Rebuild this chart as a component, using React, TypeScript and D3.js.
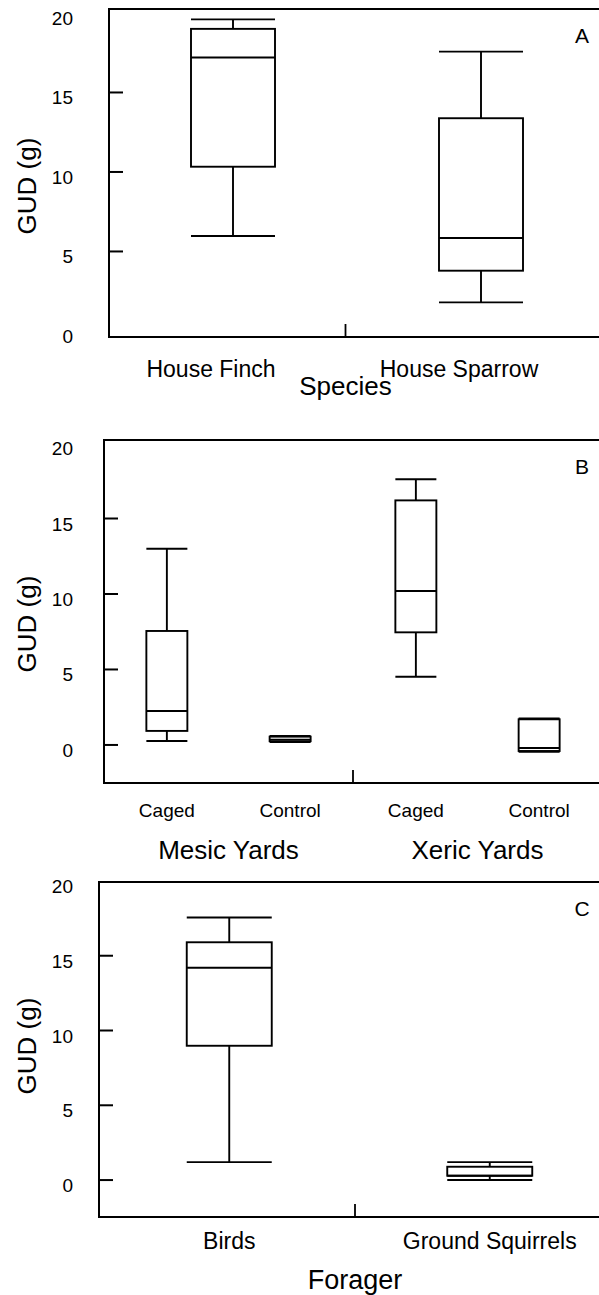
import React, { useEffect, useRef } from "react";
import * as d3 from "d3";

// panel A - species
const speciesCats = ["House Finch", "House Sparrow"];
const speciesMin = [5.97, 1.8];
const speciesQ1 = [10.33, 3.79];
const speciesMed = [17.2, 5.85];
const speciesQ3 = [19.0, 13.38];
const speciesMax = [19.6, 17.57];

// panel B - yard type x treatment
const yardGroups = ["Mesic Yards", "Xeric Yards"];
const yardTreatments = ["Caged", "Control"];
const yardMin = [0.26, 0.2, 4.52, -0.45];
const yardQ1 = [0.93, 0.25, 7.46, -0.4];
const yardMed = [2.25, 0.35, 10.2, -0.2];
const yardQ3 = [7.55, 0.55, 16.2, 1.7];
const yardMax = [13.0, 0.6, 17.6, 1.75];

// panel C - forager
const foragerCats = ["Birds", "Ground Squirrels"];
const foragerMin = [1.2, 0];
const foragerQ1 = [8.98, 0.29];
const foragerMed = [14.2, 0.29];
const foragerQ3 = [15.9, 0.89];
const foragerMax = [17.56, 1.2];

const yTicks = [0, 5, 10, 15, 20];

const W = 599;
const H = 1295;
const FONT = "'Liberation Sans', Arial, Helvetica, sans-serif";

type Box = { x: number; min: number; q1: number; med: number; q3: number; max: number };

export default function App() {
  const svgRef = useRef<SVGSVGElement>(null);

  useEffect(() => {
    const svg = d3.select(svgRef.current);
    svg.selectAll("*").remove();

    const drawPanel = (cfg: {
      left: number;
      top: number;
      bottom: number;
      yDomain: [number, number];
      boxes: Box[];
      boxW: number;
      divider: number;
      letter: string;
      yTitleY: number;
    }) => {
      const y = d3.scaleLinear().domain(cfg.yDomain).range([cfg.bottom, cfg.top]);
      const g = svg.append("g");

      // frame, right side runs off the page
      g.append("path")
        .attr("d", `M${W + 10},${cfg.top}H${cfg.left}V${cfg.bottom}H${W + 10}`)
        .attr("fill", "none")
        .attr("stroke", "#000")
        .attr("stroke-width", 2);

      // y ticks point inward
      yTicks.forEach((t) => {
        const yy = y(t);
        if (Math.abs(yy - cfg.bottom) > 7 && Math.abs(yy - cfg.top) > 7) {
          g.append("line")
            .attr("x1", cfg.left)
            .attr("x2", cfg.left + 14)
            .attr("y1", yy)
            .attr("y2", yy)
            .attr("stroke", "#000")
            .attr("stroke-width", 2);
        }
        g.append("text")
          .attr("x", 73)
          .attr("y", yy + 12)
          .attr("text-anchor", "end")
          .attr("font-size", 19)
          .text(t);
      });

      // single tick between the categories
      g.append("line")
        .attr("x1", cfg.divider)
        .attr("x2", cfg.divider)
        .attr("y1", cfg.bottom)
        .attr("y2", cfg.bottom - 13)
        .attr("stroke", "#000")
        .attr("stroke-width", 1.8);

      g.append("text")
        .attr("transform", `translate(36,${cfg.yTitleY}) rotate(-90)`)
        .attr("text-anchor", "middle")
        .attr("font-size", 26)
        .text("GUD (g)");

      g.append("text")
        .attr("x", 582)
        .attr("y", cfg.top + 34)
        .attr("text-anchor", "middle")
        .attr("font-size", 21)
        .text(cfg.letter);

      const bw = cfg.boxW;
      cfg.boxes.forEach((b) => {
        const bg = g.append("g").attr("stroke", "#000").attr("stroke-width", 1.9).attr("fill", "none");
        bg.append("line").attr("x1", b.x).attr("x2", b.x).attr("y1", y(b.q3)).attr("y2", y(b.max));
        bg.append("line").attr("x1", b.x).attr("x2", b.x).attr("y1", y(b.q1)).attr("y2", y(b.min));
        bg.append("line").attr("x1", b.x - bw / 2).attr("x2", b.x + bw / 2).attr("y1", y(b.max)).attr("y2", y(b.max));
        bg.append("line").attr("x1", b.x - bw / 2).attr("x2", b.x + bw / 2).attr("y1", y(b.min)).attr("y2", y(b.min));
        bg.append("rect")
          .attr("x", b.x - bw / 2)
          .attr("width", bw)
          .attr("y", y(b.q3))
          .attr("height", y(b.q1) - y(b.q3));
        bg.append("line").attr("x1", b.x - bw / 2).attr("x2", b.x + bw / 2).attr("y1", y(b.med)).attr("y2", y(b.med));
      });
      return g;
    };

    // ---- A ----
    const xA = d3.scalePoint<string>().domain(speciesCats).range([109, 605]).padding(0.5);
    const bandA = d3.scaleBand<string>().domain(speciesCats).range([109, 582]);
    const dividerA = bandA(speciesCats[1])!;
    const gA = drawPanel({
      left: 109,
      top: 9,
      bottom: 337,
      yDomain: [-0.38, 20.25],
      boxes: speciesCats.map((c, i) => ({
        x: xA(c)!,
        min: speciesMin[i],
        q1: speciesQ1[i],
        med: speciesMed[i],
        q3: speciesQ3[i],
        max: speciesMax[i],
      })),
      boxW: 84,
      divider: dividerA,
      letter: "A",
      yTitleY: 186,
    });
    speciesCats.forEach((c) => {
      gA.append("text")
        .attr("x", xA(c)! - 22)
        .attr("y", 377)
        .attr("text-anchor", "middle")
        .attr("font-size", 23)
        .text(c);
    });
    gA.append("text")
      .attr("x", dividerA)
      .attr("y", 395)
      .attr("text-anchor", "middle")
      .attr("font-size", 26)
      .text("Species");

    // ---- B ----
    const groupB = d3.scaleBand<string>().domain(yardGroups).range([104, 602]);
    const innerB = d3
      .scalePoint<string>()
      .domain(yardTreatments)
      .range([0, groupB.bandwidth()])
      .padding(0.51);
    const boxesB: Box[] = [];
    const labelsB: { x: number; t: string }[] = [];
    yardGroups.forEach((grp, gi) => {
      yardTreatments.forEach((tr, ti) => {
        const k = gi * yardTreatments.length + ti;
        const x = groupB(grp)! + innerB(tr)!;
        boxesB.push({ x, min: yardMin[k], q1: yardQ1[k], med: yardMed[k], q3: yardQ3[k], max: yardMax[k] });
        labelsB.push({ x, t: tr });
      });
    });
    const gB = drawPanel({
      left: 104,
      top: 440,
      bottom: 783,
      yDomain: [-2.52, 20.2],
      boxes: boxesB,
      boxW: 41,
      divider: groupB(yardGroups[1])!,
      letter: "B",
      yTitleY: 624,
    });
    labelsB.forEach((l) => {
      gB.append("text")
        .attr("x", l.x)
        .attr("y", 817)
        .attr("text-anchor", "middle")
        .attr("font-size", 19)
        .text(l.t);
    });
    yardGroups.forEach((grp) => {
      gB.append("text")
        .attr("x", groupB(grp)! + groupB.bandwidth() / 2)
        .attr("y", 859)
        .attr("text-anchor", "middle")
        .attr("font-size", 26)
        .text(grp);
    });

    // ---- C ----
    const xC = d3.scalePoint<string>().domain(foragerCats).range([99, 620]).padding(0.5);
    const bandC = d3.scaleBand<string>().domain(foragerCats).range([99, 611]);
    const dividerC = bandC(foragerCats[1])!;
    const gC = drawPanel({
      left: 99,
      top: 882,
      bottom: 1217,
      yDomain: [-2.47, 19.93],
      boxes: foragerCats.map((c, i) => ({
        x: xC(c)!,
        min: foragerMin[i],
        q1: foragerQ1[i],
        med: foragerMed[i],
        q3: foragerQ3[i],
        max: foragerMax[i],
      })),
      boxW: 85,
      divider: dividerC,
      letter: "C",
      yTitleY: 1046,
    });
    foragerCats.forEach((c) => {
      gC.append("text")
        .attr("x", xC(c)!)
        .attr("y", 1249)
        .attr("text-anchor", "middle")
        .attr("font-size", 23)
        .text(c);
    });
    gC.append("text")
      .attr("x", dividerC)
      .attr("y", 1289)
      .attr("text-anchor", "middle")
      .attr("font-size", 27)
      .text("Forager");
  }, []);

  return (
    <svg
      ref={svgRef}
      width={W}
      height={H}
      style={{ position: "absolute", left: 0, top: 0, background: "#fff", fontFamily: FONT }}
    />
  );
}
